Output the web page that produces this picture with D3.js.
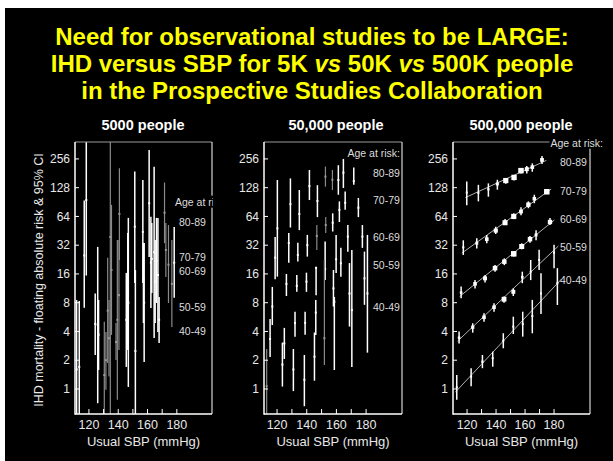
<!DOCTYPE html>
<html>
<head>
<meta charset="utf-8">
<title>IHD vs SBP - PSC</title>
<script src="https://d3js.org/d3.v7.min.js"></script>
<style>
  body { margin: 0; background: #fff; }
  svg text { font-family: "Liberation Sans", Arial, Helvetica, sans-serif; }
</style>
</head>
<body>
<script>
// ---- data ----
const titleLines = [
  "Need for observational studies to be LARGE:",
  "IHD versus SBP for 5K *vs* 50K *vs* 500K people",
  "in the Prospective Studies Collaboration"
];
const panelTitles = ["5000 people", "50,000 people", "500,000 people"];
const ageGroups = ["80-89", "70-79", "60-69", "50-59", "40-49"];
const yTicks = [1, 2, 4, 8, 16, 32, 64, 128, 256];
const xTicks = [120, 130, 140, 150, 160, 170, 180];
const xTickLabels = [120, 140, 160, 180];

// [usual SBP, risk, lower CI, upper CI]
const fiveK = [
  [111.6, 1.6, 0.3, 8.55], [113.4, 1.7, 0.35, 8.35], [116.8, 25, 7.1, 94], [118.2, 95, 15.4, 600],
  [124.3, 4.8, 2.27, 10], [126.0, 4.7, 0.71, 30.7], [126.6, 3.7, 1.58, 8.55],
  [145.5, 5.3, 1.7, 16.4], [146.5, 10.5, 2.56, 43], [146.9, 8, 1.05, 61.8], [151.3, 50, 12.9, 189],
  [151.7, 2.5, 0.37, 17.6], [156.8, 44, 12.9, 154], [157.2, 14, 4.9, 33.8], [157.7, 8, 1.92, 33.8],
  [161.1, 88, 24.1, 318], [162.3, 21, 7.05, 63.6], [162.9, 23, 10.1, 54.7], [164.5, 27, 3.42, 212],
  [165.2, 13.3, 4.9, 36.3], [166.1, 22, 7.95, 61.8], [167.1, 15.6, 3.95, 61.8], [167.9, 5.3, 3.03, 9.2],
  [178.2, 21, 9.0, 49.6]
];
const fiveKFaint = [
  [130.5, 1.4, 0.37, 5.06], [131.6, 2.0, 0.98, 3.95], [132.8, 6.6, 1.87, 23.6], [133.7, 3.4, 1.35, 8.55],
  [134.6, 39, 0.37, 660], [135.4, 17.6, 3.68, 84.5], [138.5, 3.1, 2.01, 4.9], [139.4, 5.3, 0.77, 36.3],
  [140.5, 9.6, 2.56, 36.3], [140.8, 68, 22.4, 205],
  [171.6, 70, 33.6, 145], [172.5, 28.5, 14.9, 54.7], [174.3, 20, 7.95, 52], [176.6, 12.6, 4.46, 36.3]
];

const fiftyK = [
  [115.3, 3.34, 2.16, 5.4], [116.8, 7.3, 4.67, 11.7], [118.7, 23.7, 14.1, 39], [120.2, 48, 15, 154],
  [123.6, 1.8, 1.06, 3.06], [124.9, 3.0, 2.06, 4.36], [126.3, 12.6, 9.4, 16], [127.9, 33.8, 21, 43],
  [129.0, 86, 49, 160], [131.0, 1.6, 0.95, 2.62], [132.1, 4.9, 3.53, 6.45], [133.3, 12, 10.4, 15.6],
  [134.0, 25.3, 21.6, 34], [135.0, 68, 46, 121], [138.4, 1.25, 0.66, 2.27], [138.9, 4.93, 3.7, 6.45],
  [139.8, 13.3, 10.4, 16.5], [140.4, 32, 24.3, 41], [141.8, 133, 95, 196], [145.2, 2.18, 1.22, 3.9],
  [146.1, 6.3, 3.68, 8.55], [146.3, 18.5, 9.6, 19], [147.2, 93, 63, 136], [152.4, 18, 13.8, 35],
  [157.5, 55, 44.5, 69], [158.0, 11.3, 7.3, 17.6], [158.6, 8.2, 1.58, 9.2], [159.8, 22.8, 16.4, 41],
  [161.3, 154, 108, 220], [162.0, 75, 56, 92], [163.0, 20.7, 15, 30], [164.7, 184, 127, 256],
  [165.9, 89, 75, 117], [167.7, 39.4, 27.4, 52], [168.8, 10, 4.5, 20.8], [170.4, 6.7, 1.7, 28.5],
  [171.7, 150, 137, 208], [174.8, 79, 63, 100], [177.5, 39.4, 30, 52], [178.9, 14.4, 7.6, 27.4],
  [180.9, 10, 2.4, 41]
];
const fiftyKFaint = [
  [113.0, 1.07, 0.45, 2.62], [146.8, 40, 28.5, 52], [151.9, 3.4, 1.78, 22.4], [152.8, 52, 43, 63],
  [152.6, 167, 131, 213], [157.3, 155, 121, 196]
];

const age80 = [[119.8, 114, 84, 149], [127.8, 113, 92, 137], [134.7, 123, 103, 142], [140.9, 140, 122, 155],
  [146.7, 152, 141, 162], [152.4, 164, 152, 174], [157.2, 193, 180, 204], [161.2, 200, 180, 216],
  [165.0, 210, 188, 230], [171.7, 250, 227, 275]];
const age70 = [[117.4, 30.4, 25.3, 36], [126.7, 33.6, 29.6, 37.8], [133.6, 37, 33.6, 41], [139.8, 45.5, 42, 50],
  [146.2, 55, 52, 60], [152.2, 64, 60, 69], [157.2, 72, 66, 80], [162.3, 85, 78, 92],
  [166.4, 98, 88, 108], [175.0, 116, 110, 123]];
const age60 = [[115.9, 10.2, 8.9, 11.8], [125.5, 12.6, 11.3, 13.8], [132.4, 14.4, 13, 15.6], [139.3, 18.4, 16.9, 19.8],
  [145.7, 21.5, 19.8, 23.3], [152.2, 26, 24.3, 27.3], [157.7, 31, 29, 33.5], [163.4, 37, 34, 40],
  [167.6, 41, 36, 46], [177.2, 56, 52, 61.5]];
const age50 = [[114.5, 3.44, 3.0, 4.0], [123.9, 4.43, 3.89, 4.87], [131.7, 5.63, 5.06, 6.2], [138.6, 7.17, 6.45, 7.9],
  [145.5, 8.7, 8.0, 9.3], [151.9, 10.4, 9.4, 11.3], [158.1, 14.8, 12.8, 16.9], [163.9, 16.9, 13.8, 22.4],
  [169.7, 22.4, 17.6, 28.6], [180.0, 26.7, 18.4, 32.3]];
const age40 = [[112.9, 1.04, 0.77, 1.40], [122.8, 1.35, 1.07, 1.65], [130.6, 1.93, 1.65, 2.27], [137.7, 2.10, 1.71, 2.46],
  [145.0, 3.2, 2.67, 3.83], [151.9, 4.49, 3.76, 5.71], [158.4, 4.79, 3.53, 6.44], [165.0, 5.81, 3.83, 8.56],
  [171.0, 10.0, 6.1, 16.3], [182.3, 12.8, 7.57, 18.4]];

// where the age labels sit on the risk axis, per panel
const ageLabelRisk5k = [56, 24, 17.2, 7.2, 4.05];
const ageLabelRisk50k = [182, 95, 39, 19.9, 7.2];
const ageLabelRisk500k = [238, 118, 59, 30.7, 13.8];

// ---- layout ----
const width = 613, height = 461;
const plotTop = 142, plotBottom = 414;

const svg = d3.select("body").append("svg")
  .attr("width", width)
  .attr("height", height);

svg.append("rect")
  .attr("x", 5).attr("y", 8)
  .attr("width", width - 5).attr("height", height - 8)
  .attr("fill", "#000");

// title
titleLines.forEach((line, i) => {
  const t = svg.append("text")
    .attr("x", 312)
    .attr("y", 45 + i * 27)
    .attr("text-anchor", "middle")
    .attr("font-size", 24)
    .attr("font-weight", "bold")
    .attr("fill", "#ffff00");
  line.split("*").forEach((seg, j) => {
    t.append("tspan")
      .attr("font-style", j % 2 ? "italic" : null)
      .text(seg);
  });
});

const y = d3.scaleLog().base(2).domain([0.547, 385]).range([plotBottom, plotTop]);

const panels = [
  { left: 75, right: 212, dom: [110.5, 204], titleX: 143,
    sets: [{ data: fiveK, faint: false }, { data: fiveKFaint, faint: true }],
    labelRisk: ageLabelRisk5k, labX: 179, head: { x: 175, y: 202, anchor: "start" }, clipLabels: 213 },
  { left: 264, right: 402, dom: [111.2, 204.2], titleX: 336,
    sets: [{ data: fiftyK, faint: false }, { data: fiftyKFaint, faint: true }],
    labelRisk: ageLabelRisk50k, labX: 373, head: { x: 400, y: 153, anchor: "end" } },
  { left: 453, right: 590, dom: [110.3, 204.8], titleX: 521,
    sets: [age80, age70, age60, age50, age40].map(d => ({ data: d, faint: false, fit: true })),
    labelRisk: ageLabelRisk500k, labX: 560, head: { x: 603, y: 143, anchor: "end" } }
];

// least squares of log2(risk) on SBP
function fitLine(data) {
  const mx = d3.mean(data, d => d[0]);
  const my = d3.mean(data, d => Math.log2(d[1]));
  const b = d3.sum(data, d => (d[0] - mx) * (Math.log2(d[1]) - my)) /
            d3.sum(data, d => (d[0] - mx) ** 2);
  return s => Math.pow(2, my + b * (s - mx));
}

panels.forEach((p, pi) => {
  const x = d3.scaleLinear().domain(p.dom).range([p.left, p.right]);
  const g = svg.append("g");

  g.append("clipPath").attr("id", "clip" + pi)
    .append("rect")
    .attr("x", p.left).attr("y", plotTop)
    .attr("width", p.right - p.left).attr("height", plotBottom - plotTop);

  const plot = g.append("g").attr("clip-path", `url(#clip${pi})`);

  // fitted lines first
  p.sets.filter(s => s.fit).forEach(s => {
    const f = fitLine(s.data);
    const s0 = d3.min(s.data, d => d[0]) - 1, s1 = d3.max(s.data, d => d[0]) + 3;
    plot.append("line")
      .attr("x1", x(s0)).attr("y1", y(f(s0)))
      .attr("x2", x(s1)).attr("y2", y(f(s1)))
      .attr("stroke", "#b0b0b0")
      .attr("stroke-width", 1);
  });

  p.sets.forEach(s => {
    const col = s.faint ? "#8a8a8a" : "#fff";
    plot.selectAll(null)
      .data(s.data)
      .enter().append("line")
      .attr("x1", d => x(d[0])).attr("x2", d => x(d[0]))
      .attr("y1", d => y(d[3])).attr("y2", d => y(d[2]))
      .attr("stroke", col)
      .attr("stroke-width", s.faint ? 1.2 : 1.5);

    plot.selectAll(null)
      .data(s.data)
      .enter().append("rect")
      .each(function (d) {
        const ci = y(d[2]) - y(d[3]);
        const sz = Math.max(2, Math.min(5.5, 30 / ci));
        d3.select(this)
          .attr("x", x(d[0]) - sz / 2).attr("y", y(d[1]) - sz / 2)
          .attr("width", sz).attr("height", sz);
      })
      .attr("fill", s.faint ? "#9a9a9a" : "#fff");
  });

  // frame
  g.append("line").attr("x1", p.left).attr("x2", p.right).attr("y1", plotTop).attr("y2", plotTop)
    .attr("stroke", "#9a9a9a").attr("stroke-width", 1);
  g.append("line").attr("x1", p.right).attr("x2", p.right).attr("y1", plotTop).attr("y2", plotBottom)
    .attr("stroke", "#fff").attr("stroke-width", 1);
  g.append("line").attr("x1", p.left).attr("x2", p.left).attr("y1", plotTop).attr("y2", plotBottom + 0.75)
    .attr("stroke", "#fff").attr("stroke-width", 1.5);
  g.append("line").attr("x1", p.left).attr("x2", p.right).attr("y1", plotBottom).attr("y2", plotBottom)
    .attr("stroke", "#fff").attr("stroke-width", 1.5);

  // y ticks
  yTicks.forEach(v => {
    g.append("line")
      .attr("x1", p.left).attr("x2", p.left + 4)
      .attr("y1", y(v)).attr("y2", y(v))
      .attr("stroke", "#fff").attr("stroke-width", 1);
    g.append("text")
      .attr("x", p.left - 5).attr("y", y(v))
      .attr("dy", "0.35em")
      .attr("text-anchor", "end")
      .attr("font-size", 12)
      .attr("fill", "#e8e8e8")
      .text(v);
  });

  // x ticks
  xTicks.forEach(v => {
    g.append("line")
      .attr("x1", x(v)).attr("x2", x(v))
      .attr("y1", plotBottom).attr("y2", plotBottom - 5)
      .attr("stroke", "#fff").attr("stroke-width", 1);
  });
  xTickLabels.forEach(v => {
    g.append("text")
      .attr("x", x(v)).attr("y", 429)
      .attr("text-anchor", "middle")
      .attr("font-size", 12.5)
      .attr("fill", "#e8e8e8")
      .text(v);
  });

  g.append("text")
    .attr("x", (p.left + p.right) / 2).attr("y", 446)
    .attr("text-anchor", "middle")
    .attr("font-size", 13)
    .attr("fill", "#e8e8e8")
    .text("Usual SBP (mmHg)");

  g.append("text")
    .attr("x", p.titleX).attr("y", 130)
    .attr("text-anchor", "middle")
    .attr("font-size", 14.5)
    .attr("font-weight", "bold")
    .attr("fill", "#fff")
    .text(panelTitles[pi]);

  // age labels
  const lab = g.append("g");
  if (p.clipLabels) {
    g.append("clipPath").attr("id", "lclip" + pi)
      .append("rect").attr("x", 0).attr("y", 0).attr("width", p.clipLabels).attr("height", height);
    lab.attr("clip-path", `url(#lclip${pi})`);
  }
  const head = lab.append("text")
    .attr("x", p.head.x).attr("y", p.head.y)
    .attr("dy", "0.35em")
    .attr("text-anchor", p.head.anchor)
    .attr("font-size", 10.5)
    .attr("fill", "#ddd")
    .text("Age at risk:");
  const bb = head.node().getBBox();
  lab.insert("rect", "text")
    .attr("x", bb.x - 1).attr("y", bb.y)
    .attr("width", bb.width + 2).attr("height", bb.height)
    .attr("fill", "#000");

  ageGroups.forEach((a, i) => {
    lab.append("text")
      .attr("x", p.labX).attr("y", y(p.labelRisk[i]))
      .attr("dy", "0.35em")
      .attr("font-size", 10.5)
      .attr("fill", "#ddd")
      .text(a);
  });
});

svg.append("text")
  .attr("transform", "translate(39,280) rotate(-90)")
  .attr("text-anchor", "middle")
  .attr("dy", "0.35em")
  .attr("font-size", 12.5)
  .attr("fill", "#e8e8e8")
  .text("IHD mortality - floating absolute risk & 95% CI");
</script>
</body>
</html>
